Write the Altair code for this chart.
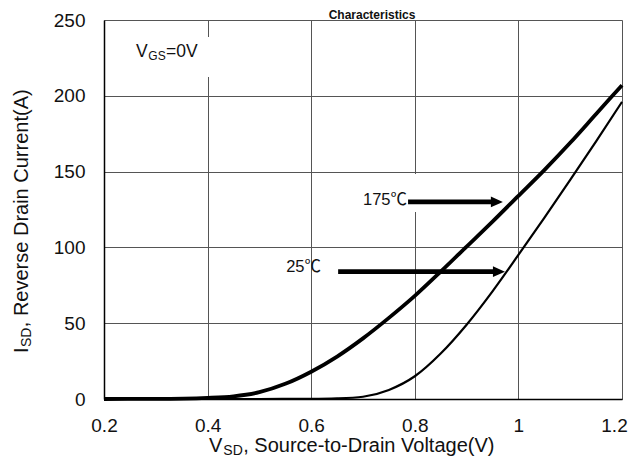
import altair as alt
import pandas as pd

# ---- data ----
v_175 = [0.2, 0.3, 0.4, 0.45, 0.5, 0.55, 0.6, 0.65, 0.7, 0.75, 0.8, 0.85, 0.9, 0.95, 1.0, 1.05, 1.1, 1.15, 1.2]
i_175 = [0, 0.1, 0.8, 1.8, 4.5, 10, 18, 28, 40, 53.5, 68, 84, 100.5, 117, 134, 151, 169, 188, 207]

v_25 = [0.2, 0.5, 0.6, 0.65, 0.7, 0.75, 0.8, 0.85, 0.9, 0.95, 1.0, 1.05, 1.1, 1.15, 1.2]
i_25 = [0, 0, 0.1, 0.4, 1.5, 6, 15, 30, 49, 71, 95, 119.5, 144.5, 170, 196]

x_ticks = [0.2, 0.4, 0.6, 0.8, 1.0, 1.2]
y_ticks = [0, 50, 100, 150, 200, 250]

temp_labels = ["175℃", "25℃"]
label_v = [0.785, 0.619]
label_i = [131.5, 87]
arrow_v0 = [0.787, 0.652]
arrow_v1 = [0.970, 0.974]
arrow_i = [130, 84]

# white label backgrounds (data units)
box_v0 = [0.231, 0.685]
box_v1 = [0.412, 0.814]
box_i0 = [212.4, 123.4]
box_i1 = [238.8, 148.4]

vgs_v = 0.262
vgs_i = 229.5

title_text = "Characteristics"
x_title = ["V", "SD", ", Source-to-Drain Voltage(V)"]
y_title = ["I", "SD", ", Reverse Drain Current(A)"]
vgs_text = ["V", "GS", "=0V"]

W, H = 518, 379
FONT = "Liberation Sans"

xs = alt.Scale(domain=[0.2, 1.2], nice=False, zero=False)
ys = alt.Scale(domain=[0, 250], nice=False, zero=False)

df175 = pd.DataFrame({"V": v_175, "I": i_175})
df25 = pd.DataFrame({"V": v_25, "I": i_25})
dfarrow = pd.DataFrame({"v0": arrow_v0, "v1": arrow_v1, "i": arrow_i})
dflab = pd.DataFrame({"t": temp_labels, "v": label_v, "i": label_i})
dfbox = pd.DataFrame({"v0": box_v0, "v1": box_v1, "i0": box_i0, "i1": box_i1})
dfvgs = pd.DataFrame({"v": [vgs_v], "i": [vgs_i]})
one = pd.DataFrame({"a": [0]})

x_axis = alt.Axis(values=x_ticks, format="~g", title=None, grid=True, gridColor="#555555",
                  gridWidth=1, gridOpacity=1, ticks=False, domainColor="#000000", domainWidth=1.5,
                  labelFont=FONT, labelFontSize=19, labelColor="#111111", labelPadding=17,
                  labelFlush=False, labelOverlap=False,
                  labelOffset={"condition": {"test": "datum.value > 1.19", "value": -8}, "value": 0})
y_axis = alt.Axis(values=y_ticks, title=None, grid=True, gridColor="#555555",
                  gridWidth=1, gridOpacity=1, ticks=False, domainColor="#000000", domainWidth=1.5,
                  labelFont=FONT, labelFontSize=19, labelColor="#111111", labelPadding=19,
                  labelFlush=False, labelOverlap=False)

line175 = alt.Chart(df175).mark_line(color="black", strokeWidth=3.8, interpolate="monotone").encode(
    x=alt.X("V:Q", scale=xs, axis=x_axis),
    y=alt.Y("I:Q", scale=ys, axis=y_axis),
)
line25 = alt.Chart(df25).mark_line(color="black", strokeWidth=2.2, interpolate="monotone").encode(
    x=alt.X("V:Q", scale=xs),
    y=alt.Y("I:Q", scale=ys),
)

boxes = alt.Chart(dfbox).mark_rect(color="white").encode(
    x=alt.X("v0:Q", scale=xs), x2="v1:Q",
    y=alt.Y("i0:Q", scale=ys), y2="i1:Q",
)

shafts = alt.Chart(dfarrow).mark_rule(color="black", strokeWidth=4.6, x2Offset=-9).encode(
    x=alt.X("v0:Q", scale=xs), x2="v1:Q",
    y=alt.Y("i:Q", scale=ys),
)
heads = alt.Chart(dfarrow).mark_point(
    shape="M-1,-0.9L1,0L-1,0.9Z", filled=True, color="black", opacity=1, size=144, xOffset=-6,
    strokeWidth=0,
).encode(
    x=alt.X("v1:Q", scale=xs),
    y=alt.Y("i:Q", scale=ys),
)

labels = alt.Chart(dflab).mark_text(
    font=FONT + ", Noto Sans CJK SC", fontSize=16.5, align="right", baseline="middle", color="#111111"
).encode(
    x=alt.X("v:Q", scale=xs), y=alt.Y("i:Q", scale=ys), text="t:N"
)


def piece(data, txt, enc, size, dx, dy, **kw):
    return alt.Chart(data).mark_text(
        text=txt, font=FONT, fontSize=size, align="left", dx=dx, dy=dy, color="#111111", **kw
    ).encode(**enc)


vgs_enc = dict(x=alt.X("v:Q", scale=xs), y=alt.Y("i:Q", scale=ys))
vgs = [
    piece(dfvgs, vgs_text[0], vgs_enc, 17.5, 0, 6, baseline="alphabetic"),
    piece(dfvgs, vgs_text[1], vgs_enc, 12, 12.2, 9, baseline="alphabetic"),
    piece(dfvgs, vgs_text[2], vgs_enc, 17.5, 30, 6, baseline="alphabetic"),
]

xt_enc = dict(x=alt.value(105), y=alt.value(432))
xt = [
    piece(one, x_title[0], xt_enc, 20, 0, 0, baseline="alphabetic"),
    piece(one, x_title[1], xt_enc, 14, 14.3, 2.5, baseline="alphabetic"),
    piece(one, x_title[2], xt_enc, 20, 34.2, 0, baseline="alphabetic"),
]

yt_enc = dict(x=alt.value(-76), y=alt.value(333))
yt = [
    piece(one, y_title[0], yt_enc, 20, 0, 0, baseline="alphabetic", angle=270),
    piece(one, y_title[1], yt_enc, 14, 6.0, 3, baseline="alphabetic", angle=270),
    piece(one, y_title[2], yt_enc, 20, 25.8, 0, baseline="alphabetic", angle=270),
]

title = alt.Chart(one).mark_text(
    text=title_text, font=FONT, fontSize=12, fontWeight="bold", align="center",
    baseline="alphabetic", color="#111111"
).encode(x=alt.value(268), y=alt.value(-1.5))

chart = alt.layer(
    line175, boxes, line25, shafts, heads, labels, *vgs, *xt, *yt, title
).properties(
    width=W, height=H,
    autosize=alt.AutoSizeParams(type="none"),
    padding={"left": 96, "top": 12, "right": 7, "bottom": 60},
).configure_view(stroke=None).configure(background="white")

chart.save("out.html", embed_options={"renderer": "svg", "actions": False})
